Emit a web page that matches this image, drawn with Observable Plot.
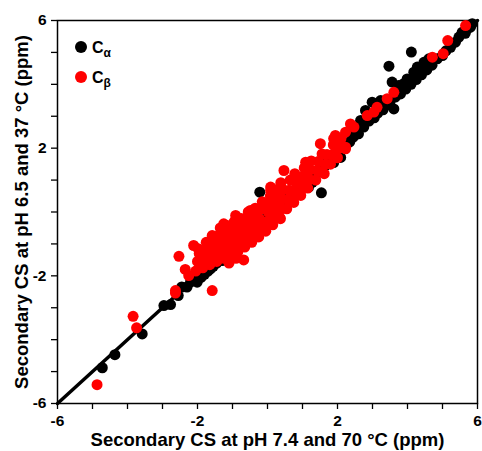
<!DOCTYPE html>
<html><head><meta charset="utf-8">
<script src="https://cdn.jsdelivr.net/npm/d3@7"></script>
<script src="https://cdn.jsdelivr.net/npm/@observablehq/plot@0.6"></script>
<style>
body{margin:0;background:#fff;font-family:"Liberation Sans",Arial,sans-serif;}
#chart{position:relative;width:482px;height:451px;}
.lg-dot{position:absolute;width:12px;height:12px;border-radius:50%;}
.lg-txt{position:absolute;font-weight:bold;font-size:16px;line-height:16px;color:#000;}
.lg-txt sub{font-size:12px;vertical-align:-4px;line-height:0;}
</style>
</head><body>
<div id="chart"></div>
<script>
// Cα secondary chemical shifts: [pH 7.4 / 70 °C, pH 6.5 / 37 °C]
const caPoints = [
[-4.72,-4.88],[-4.36,-4.47],[-3.58,-3.82],[-2.96,-2.93],[-2.77,-2.90],[-2.55,-2.62],[-2.45,-2.35],[-2.30,-2.35],
[-2.20,-2.20],[-2.05,-2.15],[-2.01,-2.20],[-1.90,-2.05],[-1.80,-1.95],[-1.70,-1.85],[-1.63,-1.78],[-1.55,-1.70],
[-1.45,-1.60],[-1.29,-1.52],[-1.20,-1.40],[-1.10,-1.30],[-1.00,-1.20],[-0.90,-1.10],[-0.80,-1.00],[-0.70,-0.90],
[-0.60,-0.75],[-0.50,-0.70],[-0.40,-0.55],[-0.30,-0.50],[-0.20,-0.40],[-0.10,-0.30],[0.00,-0.20],[0.10,-0.10],
[0.20,0.00],[0.30,0.10],[0.40,0.20],[0.50,0.30],[0.60,0.40],[0.70,0.50],[0.80,0.62],[0.89,0.67],[0.90,0.70],
[1.00,0.80],[1.10,0.88],[1.17,0.77],[1.20,1.00],[1.28,0.93],[1.35,1.15],[1.45,1.25],[1.55,1.35],[1.65,1.45],
[1.75,1.55],[1.89,1.55],[1.85,1.65],[1.95,1.78],[2.09,1.71],[2.05,1.88],[2.15,2.00],[2.25,2.10],[2.35,2.20],
[2.45,2.35],[2.57,2.45],[2.51,2.55],[2.66,2.66],[2.60,2.45],[2.75,2.66],[2.80,3.18],[2.66,2.87],[2.90,2.85],
[2.99,3.44],[3.05,2.95],[3.15,3.10],[3.23,3.49],[3.30,3.20],[3.40,3.35],[3.47,4.57],[3.56,4.07],[3.61,3.23],
[3.50,3.45],[3.65,3.60],[3.75,3.96],[3.80,3.70],[3.89,4.02],[3.95,3.85],[3.99,4.17],[4.11,5.01],[4.10,4.00],
[4.18,4.38],[4.25,4.15],[4.28,4.54],[4.40,4.30],[4.47,4.69],[4.55,4.45],[4.61,4.80],[4.70,4.60],[4.85,4.80],
[5.00,4.90],[5.10,5.05],[5.23,5.16],[5.37,5.32],[5.47,5.48],[5.56,5.63],[5.65,5.60],[5.72,5.75],[5.80,5.79],
[5.85,5.90],[-0.22,0.62],[1.54,0.60]
];
// Cβ secondary chemical shifts
const cbPoints = [
[-4.87,-5.41],[-3.84,-3.27],[-3.74,-3.63],[-2.63,-2.54],[-2.53,-1.39],[-2.63,-2.46],[-1.58,-2.46],[-2.25,-1.99],
[-2.35,-1.80],[-2.11,-1.05],[-1.91,-1.73],[-0.68,-1.50],[-1.10,-1.60],[-0.90,-1.45],[-1.58,-0.74],[-1.25,-0.37],
[-0.91,-0.11],[-0.49,0.05],[0.09,0.78],[-0.20,-0.58],[0.47,1.30],[2.23,1.98],[2.37,2.76],[1.51,2.14],[1.94,2.40],
[1.56,1.82],[1.09,1.56],[1.56,1.25],[0.85,1.09],[0.09,0.67],[0.28,0.15],[0.37,-0.21],[-0.29,0.05],
[5.66,5.84],[5.15,5.37],[5.02,4.96],[4.71,4.85],[3.61,3.75],[3.42,3.55],[3.13,3.28],[2.85,3.02],[3.04,3.13],
[2.47,2.66],[2.23,2.50],[2.23,2.03],[1.89,2.30],
[-2.05,-1.85],[-2.00,-1.55],[-1.95,-1.30],[-1.98,-1.15],
[-1.85,-1.75],[-1.80,-1.45],[-1.78,-1.20],[-1.75,-0.95],
[-1.65,-1.65],[-1.60,-1.35],[-1.62,-1.10],[-1.55,-0.90],
[-1.45,-1.55],[-1.42,-1.25],[-1.40,-1.00],[-1.38,-0.72],[-1.35,-0.50],
[-1.25,-1.45],[-1.20,-1.18],[-1.22,-0.90],[-1.18,-0.62],[-1.15,-0.42],
[-1.05,-1.35],[-1.00,-1.08],[-1.02,-0.80],[-0.98,-0.52],[-0.95,-0.30],
[-0.85,-1.25],[-0.80,-0.98],[-0.82,-0.70],[-0.78,-0.42],[-0.75,-0.20],
[-0.65,-1.10],[-0.60,-0.82],[-0.62,-0.55],[-0.58,-0.25],[-0.55,0.00],
[-0.45,-0.95],[-0.40,-0.68],[-0.42,-0.42],[-0.38,-0.12],[-0.35,0.12],
[-0.25,-0.78],[-0.20,-0.50],[-0.22,-0.22],[-0.18,0.10],[-0.15,0.32],
[-0.05,-0.60],[0.00,-0.30],[0.02,0.00],[0.05,0.28],[0.08,0.50],
[0.15,-0.40],[0.20,-0.12],[0.22,0.18],[0.25,0.48],[0.20,0.70],
[0.35,-0.18],[0.40,0.10],[0.42,0.40],[0.45,0.70],[0.38,0.92],
[0.55,0.10],[0.60,0.38],[0.62,0.68],[0.65,1.00],
[0.75,0.30],[0.80,0.60],[0.82,0.90],[0.78,1.20],
[0.95,0.52],[1.00,0.82],[1.02,1.12],[1.05,1.38],
[1.15,0.75],[1.20,1.02],[1.22,1.32],[1.25,1.60],
[1.38,1.00],[1.42,1.30],[1.45,1.58],
[1.62,1.20],[1.65,1.50],[1.70,1.80],
[1.80,1.50],[1.85,1.80],[1.88,2.10],
[2.00,1.70],[2.05,2.00],[2.10,2.30]
];
const majorTicks = [-6, -2, 2, 6];
const minorTicks = [-6,-5,-4,-3,-2,-1,0,1,2,3,4,5,6];
const diagonal = [-6, 6];
const xTitle = "Secondary CS at pH 7.4 and 70 °C (ppm)";
const yTitle = "Secondary CS at pH 6.5 and 37 °C (ppm)";

const fmt = d => majorTicks.includes(d) ? String(d) : "";
const svg = Plot.plot({
  width: 482, height: 451,
  marginLeft: 57, marginRight: 5, marginTop: 20, marginBottom: 48,
  style: {fontFamily: "'Liberation Sans', Arial, sans-serif", background: "white", overflow: "visible"},
  x: {domain: [-6, 6]},
  y: {domain: [-6, 6]},
  marks: [
    Plot.frame({stroke: "black", strokeWidth: 1.5}),
    Plot.line(diagonal, {x: d => d, y: d => d, stroke: "black", strokeWidth: 3.5}),
    Plot.dot(caPoints, {x: d => d[0], y: d => d[1], r: 5.5, fill: "black"}),
    Plot.dot(cbPoints, {x: d => d[0], y: d => d[1], r: 5.5, fill: "#ff0000"}),
    Plot.axisX({ticks: minorTicks, tickFormat: fmt, tickSize: 6, tickPadding: 5, fontSize: 15.5, fontWeight: "bold", label: null, strokeWidth: 1.3}),
    Plot.axisY({ticks: minorTicks, tickFormat: fmt, tickSize: 6, tickPadding: 5, fontSize: 15.5, fontWeight: "bold", label: null, strokeWidth: 1.3}),
    Plot.text([xTitle], {text: d => d, frameAnchor: "bottom", dy: 42, fontSize: 18.5, fontWeight: "bold", fill: "black"}),
    Plot.text([yTitle], {text: d => d, frameAnchor: "left", dx: -35, rotate: -90, textAnchor: "middle", fontSize: 18.5, fontWeight: "bold", fill: "black"})
  ]
});
const chart = document.getElementById("chart");
chart.appendChild(svg);
const legend = [
  {base: "C", sub: "α", color: "black", top: 40.7},
  {base: "C", sub: "β", color: "#ff0000", top: 71.3}
];
for (const it of legend) {
  const dot = document.createElement("div");
  dot.className = "lg-dot";
  dot.style.left = "74.7px"; dot.style.top = it.top + "px"; dot.style.background = it.color;
  chart.appendChild(dot);
  const t = document.createElement("div");
  t.className = "lg-txt";
  t.style.left = "92px"; t.style.top = (it.top - 1) + "px";
  t.innerHTML = it.base + "<sub>" + it.sub + "</sub>";
  chart.appendChild(t);
}
</script>
</body></html>
